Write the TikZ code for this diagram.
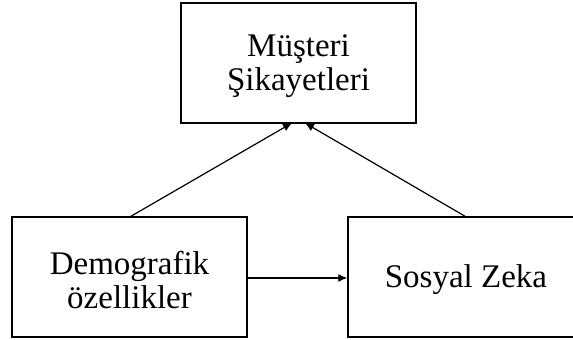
\documentclass[tikz,border=0pt]{standalone}
\usepackage{fontspec}
\setmainfont{Liberation Serif}
\usetikzlibrary{arrows.meta}

\tikzset{
    kutu/.style={draw, line width=0.75pt, inner sep=0pt},
    yazi/.style={align=center, inner sep=0pt, font=\fontsize{16.5}{17}\selectfont},
    ok/.style={line width=0.6pt, -{Latex[length=4.5pt,width=4pt]}}
}

\begin{document}
\begin{tikzpicture}[x=0.5pt,y=-0.5pt]

    \useasboundingbox (0,0) rectangle (573,340);

    \node[kutu, minimum width=117.5pt, minimum height=60pt] (sikayet) at (298.5,63) {};
    \node[yazi] (sikayetyazi) at (298.5,66) {Müşteri\\Şikayetleri};
    \node[kutu, minimum width=117.5pt, minimum height=60pt] (demo) at (129.5,277) {};
    \node[yazi] (demoyazi) at (129.5,280) {Demografik\\özellikler};
    \node[kutu, minimum width=113.5pt, minimum height=60pt] (zeka) at (461.5,277) {};
    \node[yazi] (zekayazi) at (466,280) {Sosyal Zeka};

    \coordinate (sol) at (292,123);
    \coordinate (sag) at (305,123);

    \draw[ok] (demo.north) ++(1.5,0) -- (sol);
    \draw[ok] (zeka.north) ++(3.5,0) -- (sag);
    \draw[ok] (demo.east |- 0,278) -- (zeka.west |- 0,278);

\end{tikzpicture}
\end{document}
